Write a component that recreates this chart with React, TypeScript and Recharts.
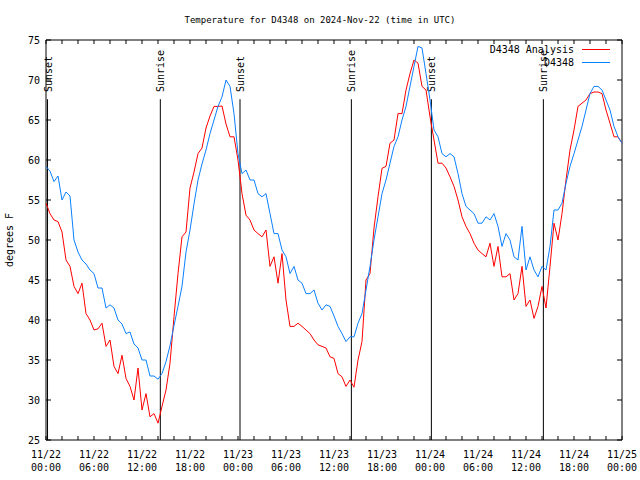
import React from "react";
import {
  LineChart,
  Line,
  XAxis,
  YAxis,
  ReferenceLine,
  ReferenceArea,
} from "recharts";

// half-hourly samples, starting 11/22 00:00 UTC
const STEP_HOURS = 0.5;

const analysisTemps = [
  54.6, 53.3, 52.5, 52.3, 51.0, 47.5, 46.7, 44.2, 43.3, 44.6,
  40.8, 40.0, 38.75, 38.9, 39.6, 36.7, 37.5, 34.2, 33.3, 35.6,
  32.7, 31.7, 30.0, 34.0, 28.75, 30.8, 27.9, 28.3, 27.1, 29.2,
  31.25, 34.6, 40.4, 45.8, 50.4, 51.0, 56.5, 58.5, 60.8, 61.5,
  64.0, 65.5, 66.7, 66.7, 66.75, 64.5, 62.9, 62.9, 60.0, 55.8,
  53.1, 52.5, 51.25, 50.8, 50.4, 51.25, 46.7, 47.9, 44.6, 48.3,
  42.5, 39.2, 39.2, 39.6, 39.2, 38.75, 38.3, 37.5, 36.9, 36.7,
  36.5, 35.4, 35.2, 33.3, 32.9, 31.7, 32.5, 31.6, 35.0, 37.3,
  45.0, 45.8, 51.5, 55.4, 58.96, 59.2, 62.1, 62.5, 65.8, 65.8,
  68.75, 70.8, 72.5, 72.1, 69.2, 68.75, 65.4, 62.5, 59.6, 59.6,
  59.0, 57.9, 56.7, 55.0, 52.9, 51.7, 50.8, 49.6, 48.75, 48.3,
  47.9, 49.6, 46.7, 49.2, 45.4, 45.4, 45.8, 42.5, 43.3, 46.7,
  41.7, 42.5, 40.2, 41.7, 44.2, 41.5, 46.7, 52.1, 50.0, 53.3,
  57.5, 61.25, 63.75, 66.7, 67.1, 67.5, 68.3, 68.5, 68.5, 68.3,
  66.25, 64.6, 62.9, 62.9, 62.1,
];

const stationTemps = [
  59.2, 58.6, 57.3, 58.0, 55.0, 56.0, 55.5, 50.0, 48.5, 47.5,
  47.0, 46.25, 45.8, 44.0, 44.0, 41.5, 41.9, 41.5, 40.0, 39.5,
  38.3, 38.5, 37.0, 36.5, 35.0, 35.0, 33.0, 33.0, 32.6, 33.3,
  34.8, 36.8, 39.3, 41.7, 44.2, 48.5, 51.25, 54.5, 57.5, 59.5,
  61.25, 63.3, 65.0, 66.7, 67.9, 70.0, 69.2, 65.8, 60.8, 58.3,
  58.75, 57.5, 57.5, 55.8, 55.4, 55.8, 53.3, 50.8, 50.8, 48.75,
  47.9, 45.8, 46.7, 45.0, 44.6, 43.3, 43.3, 43.75, 42.1, 41.25,
  41.9, 41.7, 40.5, 39.2, 38.3, 37.3, 37.9, 37.9, 39.6, 40.8,
  43.75, 46.7, 50.0, 52.9, 55.8, 57.5, 59.6, 61.7, 62.9, 65.0,
  66.7, 69.2, 71.7, 74.2, 74.0, 70.8, 67.5, 63.75, 62.9, 60.8,
  60.4, 60.8, 60.4, 58.3, 55.8, 54.2, 53.75, 53.3, 52.1, 52.1,
  52.9, 52.5, 53.3, 51.7, 49.2, 50.8, 50.0, 47.9, 47.5, 51.7,
  46.25, 47.9, 46.25, 45.4, 46.7, 46.25, 49.2, 53.75, 53.75, 54.6,
  57.1, 59.2, 60.8, 62.5, 64.2, 66.25, 68.3, 69.2, 69.2, 68.75,
  67.5, 66.25, 64.2, 62.9, 62.1,
];

const sunEvents = [
  { label: "Sunset", h: 0.19 },
  { label: "Sunrise", h: 14.29 },
  { label: "Sunset", h: 24.25 },
  { label: "Sunrise", h: 38.17 },
  { label: "Sunset", h: 48.17 },
  { label: "Sunrise", h: 62.17 },
];

const xTicks = [
  0, 2, 4, 6, 8, 10, 12, 14, 16, 18, 20, 22, 24, 26, 28, 30, 32, 34, 36,
  38, 40, 42, 44, 46, 48, 50, 52, 54, 56, 58, 60, 62, 64, 66, 68, 70, 72,
];
const majorTicks = [0, 6, 12, 18, 24, 30, 36, 42, 48, 54, 60, 66, 72];
const majorDates = [
  "11/22", "11/22", "11/22", "11/22", "11/23", "11/23", "11/23",
  "11/23", "11/24", "11/24", "11/24", "11/24", "11/25",
];
const majorTimes = [
  "00:00", "06:00", "12:00", "18:00", "00:00", "06:00", "12:00",
  "18:00", "00:00", "06:00", "12:00", "18:00", "00:00",
];
const yTicks = [25, 30, 35, 40, 45, 50, 55, 60, 65, 70, 75];
const SUN_LINE_TOP = 67.6;

const data = analysisTemps.map((v, i) => ({
  h: i * STEP_HOURS,
  analysis: v,
  station: stationTemps[i],
}));

const PLOT_LEFT = 46;
const PLOT_RIGHT = 622;
const PLOT_TOP = 40;
const PLOT_BOTTOM = 440;
const FONT = "'DejaVu Sans Mono', monospace";
const RED = "#ff0000";
const BLUE = "#0a80ff";

const XTick = (props: any) => {
  const { x, payload } = props;
  const idx = majorTicks.indexOf(payload.value);
  return (
    <g>
      <line x1={x} x2={x} y1={PLOT_BOTTOM} y2={PLOT_BOTTOM - 4} stroke="#000" />
      <line x1={x} x2={x} y1={PLOT_TOP} y2={PLOT_TOP + 4} stroke="#000" />
      {idx >= 0 && (
        <text x={x} textAnchor="middle" fontFamily={FONT} fontSize={10} fill="#000">
          <tspan x={x} y={458}>{majorDates[idx]}</tspan>
          <tspan x={x} y={471}>{majorTimes[idx]}</tspan>
        </text>
      )}
    </g>
  );
};

const YTick = (props: any) => {
  const { y, payload } = props;
  return (
    <g>
      <line x1={PLOT_LEFT} x2={PLOT_LEFT + 5} y1={y} y2={y} stroke="#000" />
      <line x1={PLOT_RIGHT} x2={PLOT_RIGHT - 5} y1={y} y2={y} stroke="#000" />
      <text x={40} y={y + 4} textAnchor="end" fontFamily={FONT} fontSize={10} fill="#000">
        {payload.value}
      </text>
    </g>
  );
};

const SunLabel = (props: any) => {
  const { viewBox, value } = props;
  const x = viewBox.x;
  const tx = x + 4;
  const ty = 92;
  return (
    <text
      x={tx}
      y={ty}
      transform={`rotate(-90 ${tx} ${ty})`}
      textAnchor="start"
      fontFamily={FONT}
      fontSize={10}
      fill="#000"
    >
      {value}
    </text>
  );
};

const App: React.FC = () => {
  return (
    <div style={{ position: "absolute", left: 0, top: 0, width: 640, height: 480, background: "#fff" }}>
      <LineChart
        width={640}
        height={480}
        data={data}
        margin={{ top: 40, right: 18, bottom: 0, left: 6 }}
      >
        <XAxis
          type="number"
          dataKey="h"
          domain={[0, 72]}
          ticks={xTicks}
          interval={0}
          height={40}
          axisLine={false}
          tickLine={false}
          tick={<XTick />}
        />
        <YAxis
          domain={[25, 75]}
          ticks={yTicks}
          interval={0}
          width={40}
          axisLine={false}
          tickLine={false}
          tick={<YTick />}
        />
        {sunEvents.map((e, i) => (
          <ReferenceLine
            key={i}
            segment={[
              { x: e.h, y: 25 },
              { x: e.h, y: SUN_LINE_TOP },
            ]}
            stroke="#000"
            strokeWidth={1}
            ifOverflow="visible"
            label={<SunLabel value={e.label} />}
          />
        ))}
        <Line
          type="linear"
          dataKey="analysis"
          stroke={RED}
          strokeWidth={1}
          dot={false}
          isAnimationActive={false}
        />
        <Line
          type="linear"
          dataKey="station"
          stroke={BLUE}
          strokeWidth={1}
          dot={false}
          isAnimationActive={false}
        />
        <ReferenceArea
          x1={0}
          x2={72}
          y1={25}
          y2={75}
          fill="none"
          fillOpacity={0}
          stroke="#000"
          strokeWidth={1}
        />
      </LineChart>
      <svg
        width={640}
        height={480}
        style={{ position: "absolute", left: 0, top: 0, pointerEvents: "none" }}
      >
        <text x={320} y={23} textAnchor="middle" fontFamily={FONT} fontSize={9} fill="#000">
          Temperature for D4348 on 2024-Nov-22 (time in UTC)
        </text>
        <text
          x={13}
          y={240}
          transform="rotate(-90 13 240)"
          textAnchor="middle"
          fontFamily={FONT}
          fontSize={10}
          fill="#000"
        >
          degrees F
        </text>
        <text x={574} y={53} textAnchor="end" fontFamily={FONT} fontSize={10} fill="#000">
          D4348 Analysis
        </text>
        <line x1={582} x2={610} y1={49.5} y2={49.5} stroke={RED} />
        <text x={574} y={66} textAnchor="end" fontFamily={FONT} fontSize={10} fill="#000">
          D4348
        </text>
        <line x1={582} x2={610} y1={62.5} y2={62.5} stroke={BLUE} />
      </svg>
    </div>
  );
};

export default App;
